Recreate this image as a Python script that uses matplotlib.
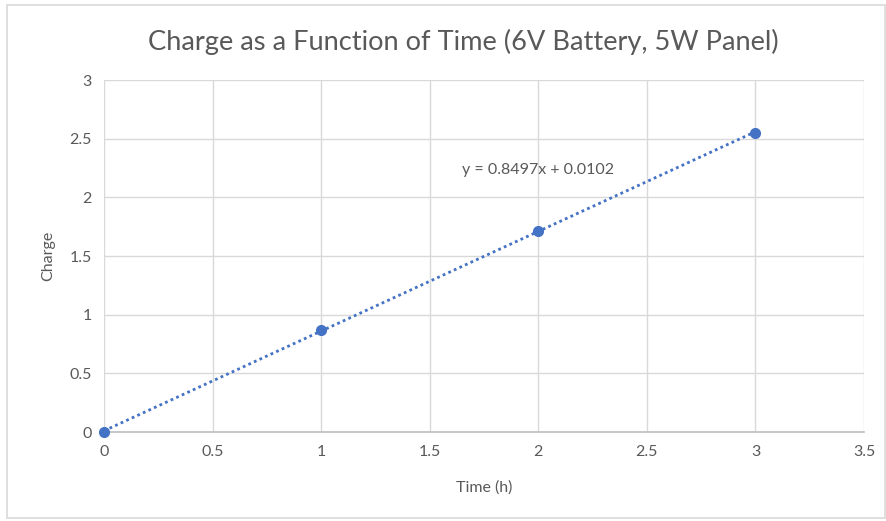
import numpy as np
import matplotlib
matplotlib.use('Agg')
import matplotlib.pyplot as plt
from matplotlib.patches import Rectangle

# Dados do gráfico
time_h = [0, 1, 2, 3]
charge = [0.0, 0.87, 1.713, 2.548]
slope = 0.8497
intercept = 0.0102
eq_label = 'y = 0.8497x + 0.0102'

plt.rcParams['font.family'] = ['Lato', 'DejaVu Sans']
grey_txt = '#595959'

fig = plt.figure(figsize=(8.87, 5.21), dpi=100)
ax = fig.add_axes([104 / 887, 1 - 432 / 521, 760 / 887, 352 / 521])

# Borda da área do gráfico
fig.patches.append(Rectangle((7 / 887, 3 / 521), 878 / 887, 513 / 521,
                             transform=fig.transFigure, fill=False,
                             edgecolor='#d9d9d9', linewidth=1.2))

# Linha de tendência pontilhada
fit_x = np.array([time_h[0], time_h[-1]])
ax.plot(fit_x, slope * fit_x + intercept, linestyle=(0, (1, 1.2)),
        color='#4472c4', linewidth=2, zorder=3)
ax.plot(time_h, charge, 'o', color='#4472c4', markersize=7, zorder=4,
        clip_on=False)

ax.text(2.0, 2.23, eq_label, ha='center', va='center', fontsize=11.5,
        color=grey_txt)

ax.set_xlim(0, 3.5)
ax.set_ylim(0, 3)
ax.set_xticks(np.arange(0, 3.51, 0.5))
ax.set_yticks(np.arange(0, 3.01, 0.5))
ax.set_xticklabels(['0', '0.5', '1', '1.5', '2', '2.5', '3', '3.5'])
ax.set_yticklabels(['0', '0.5', '1', '1.5', '2', '2.5', '3'])
ax.grid(True, color='#d9d9d9', linewidth=1)
ax.set_axisbelow(True)
for s in ['top', 'right', 'left']:
    ax.spines[s].set_visible(False)
ax.spines['bottom'].set_color('#bfbfbf')
ax.spines['bottom'].set_linewidth(1.2)
ax.tick_params(length=0, labelsize=11.5, colors=grey_txt, pad=9)

ax.set_xlabel('Time (h)', fontsize=11.5, color=grey_txt, labelpad=16)
ax.set_ylabel('Charge', fontsize=11.5, color=grey_txt, labelpad=10)
fig.text(463 / 887, 1 - 42 / 521, 'Charge as a Function of Time (6V Battery, 5W Panel)',
         ha='center', va='center', fontsize=19.6, color=grey_txt)

fig.savefig('out.png', dpi=100)
